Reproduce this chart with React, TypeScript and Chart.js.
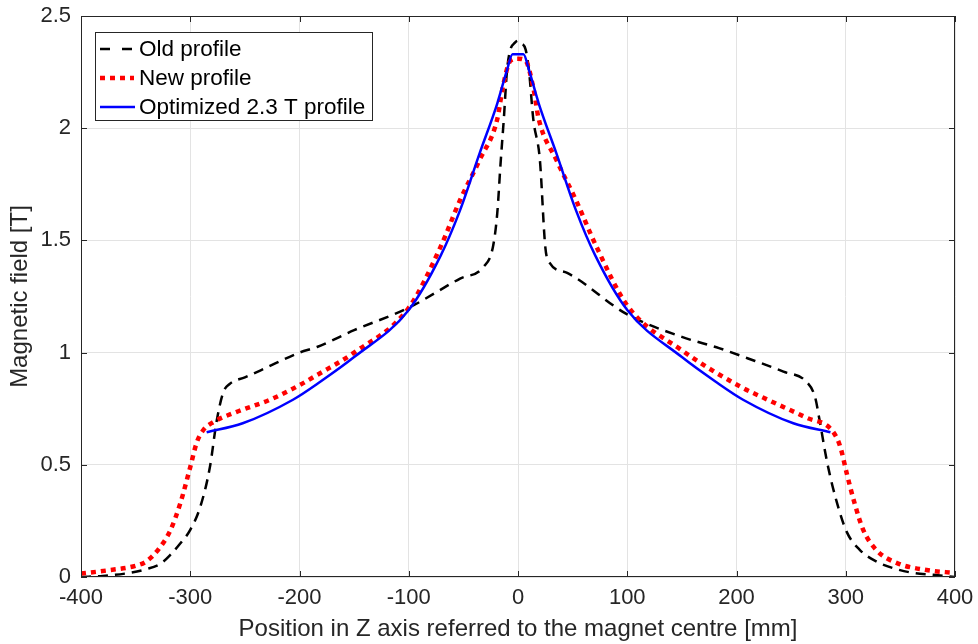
import React, { useEffect, useRef } from "react";
import { Chart, registerables } from "chart.js";

Chart.register(...registerables);

const oldX = [-400, -380, -360, -340, -327, -318, -309, -300, -291, -282, -276, -270, -264, -250, -236, -200, -184, -150, -100, -53, -32, -23, -19, -16, -13, -10, -7, -3, 0, 3, 7, 10, 14, 20, 25, 29, 45, 100, 150, 184, 210, 243, 264, 272, 276, 283, 292, 301, 313, 329, 343, 362, 380, 400];
const oldY = [0.0, 0.005, 0.015, 0.035, 0.06, 0.1, 0.15, 0.21, 0.31, 0.49, 0.69, 0.82, 0.86, 0.89, 0.92, 1.0, 1.025, 1.1, 1.2, 1.33, 1.38, 1.47, 1.62, 1.84, 2.04, 2.26, 2.35, 2.38, 2.39, 2.38, 2.35, 2.26, 2.04, 1.86, 1.47, 1.4, 1.355, 1.17, 1.07, 1.02, 0.975, 0.915, 0.87, 0.8, 0.7, 0.51, 0.33, 0.2, 0.12, 0.067, 0.04, 0.018, 0.01, 0.0];

const newX = [-400, -375, -350, -340, -328, -318, -309, -300, -294, -288, -279, -258, -227, -200, -184, -150, -100, -71, -53, -35, -19, -14, -7, 0, 7, 14, 19, 35, 53, 72, 100, 150, 203, 233, 264, 288, 295, 301, 308, 316, 328, 347, 374, 400];
const newY = [0.015, 0.03, 0.05, 0.07, 0.13, 0.21, 0.33, 0.49, 0.6, 0.655, 0.69, 0.735, 0.79, 0.855, 0.9, 1.0, 1.2, 1.47, 1.68, 1.86, 2.04, 2.18, 2.3, 2.31, 2.3, 2.18, 2.04, 1.86, 1.68, 1.47, 1.21, 1.01, 0.85, 0.78, 0.71, 0.65, 0.58, 0.46, 0.33, 0.21, 0.12, 0.062, 0.031, 0.018];

const optX = [-285, -252, -206, -181, -150, -100, -71, -53, -35, -19, -10, -5, 0, 5, 10, 19, 35, 53, 71, 100, 150, 181, 206, 252, 286];
const optY = [0.645, 0.685, 0.79, 0.87, 0.98, 1.19, 1.43, 1.635, 1.89, 2.11, 2.26, 2.33, 2.33, 2.33, 2.26, 2.11, 1.89, 1.635, 1.43, 1.19, 0.98, 0.87, 0.79, 0.685, 0.645];

const xTicks = [-400, -300, -200, -100, 0, 100, 200, 300, 400];
const yTicks = [0, 0.5, 1, 1.5, 2, 2.5];

const seriesNames = ["Old profile", "New profile", "Optimized 2.3 T profile"];

const FONT = "'Liberation Sans', Arial, sans-serif";
const TEXT = "#262626";

const toPts = (xs: number[], ys: number[]) => xs.map((x, i) => ({ x, y: ys[i] }));

const styles = [
  { color: "#000000", width: 2.5, dash: [10, 7] },
  { color: "#ff0000", width: 4.5, dash: [5, 5] },
  { color: "#0000ff", width: 2.5, dash: [] as number[] },
];

const framePlugin = {
  id: "frame",
  afterDatasetsDraw(chart: any) {
    const { ctx, chartArea: a, scales } = chart;
    ctx.save();
    ctx.strokeStyle = TEXT;
    ctx.lineWidth = 1;
    ctx.strokeRect(a.left + 0.5, a.top + 0.5, a.right - a.left - 1, a.bottom - a.top - 1);
    const tl = 6;
    ctx.beginPath();
    xTicks.forEach((v) => {
      const px = Math.round(scales.x.getPixelForValue(v)) + 0.5;
      ctx.moveTo(px, a.bottom);
      ctx.lineTo(px, a.bottom - tl);
      ctx.moveTo(px, a.top);
      ctx.lineTo(px, a.top + tl);
    });
    yTicks.forEach((v) => {
      const py = Math.round(scales.y.getPixelForValue(v)) + 0.5;
      ctx.moveTo(a.left, py);
      ctx.lineTo(a.left + tl, py);
      ctx.moveTo(a.right, py);
      ctx.lineTo(a.right - tl, py);
    });
    ctx.stroke();

    // legend
    const bx = 95.5, by = 32.5, bw = 277, bh = 88;
    ctx.fillStyle = "#ffffff";
    ctx.fillRect(bx, by, bw, bh);
    ctx.strokeStyle = TEXT;
    ctx.strokeRect(bx, by, bw, bh);
    const rows = [49, 78, 107];
    ctx.font = `22.5px ${FONT}`;
    ctx.textBaseline = "middle";
    ctx.textAlign = "left";
    seriesNames.forEach((name, i) => {
      const s = styles[i];
      ctx.beginPath();
      ctx.strokeStyle = s.color;
      ctx.lineWidth = s.width;
      ctx.setLineDash(i === 0 ? [10, 12] : s.dash);
      ctx.moveTo(100, rows[i]);
      ctx.lineTo(i === 1 ? 134 : 135, rows[i]);
      ctx.stroke();
      ctx.setLineDash([]);
      ctx.fillStyle = "#000000";
      ctx.fillText(name, 139, rows[i] + 1);
    });
    ctx.restore();
  },
};

export default function App() {
  const ref = useRef<HTMLCanvasElement>(null);
  useEffect(() => {
    document.body.style.margin = "0";
    const data = [toPts(oldX, oldY), toPts(newX, newY), toPts(optX, optY)];
    const chart = new Chart(ref.current!, {
      type: "line",
      data: {
        datasets: data.map((d, i) => ({
          label: seriesNames[i],
          data: d,
          borderColor: styles[i].color,
          borderWidth: styles[i].width,
          borderDash: styles[i].dash,
          borderCapStyle: "butt",
          pointRadius: 0,
          fill: false,
          cubicInterpolationMode: "monotone",
          order: 2 - i,
        })),
      },
      options: {
        animation: false,
        responsive: false,
        devicePixelRatio: 1,
        layout: { padding: { top: 16, right: 23, left: 0, bottom: 0 } },
        plugins: { legend: { display: false }, tooltip: { enabled: false } },
        scales: {
          x: {
            type: "linear",
            min: -400,
            max: 400,
            afterBuildTicks: (s: any) => {
              s.ticks = xTicks.map((v) => ({ value: v }));
            },
            afterFit: (s: any) => {
              s.height = 67;
              s.paddingLeft = 0;
              s.paddingRight = 0;
            },
            ticks: {
              color: TEXT,
              font: { family: FONT, size: 22 },
              padding: 8,
              maxRotation: 0,
              callback: (v: any) => String(v),
            },
            grid: { color: "#e3e3e3", drawTicks: false, lineWidth: 1 },
            border: { display: false },
            title: {
              display: true,
              text: "Position in Z axis referred to the magnet centre [mm]",
              color: TEXT,
              font: { family: FONT, size: 24 },
              padding: { top: 0, bottom: 0 },
            },
          },
          y: {
            type: "linear",
            min: 0,
            max: 2.5,
            afterBuildTicks: (s: any) => {
              s.ticks = yTicks.map((v) => ({ value: v }));
            },
            afterFit: (s: any) => {
              s.width = 81;
              s.paddingTop = 0;
              s.paddingBottom = 0;
            },
            ticks: {
              color: TEXT,
              font: { family: FONT, size: 22 },
              padding: 10,
              callback: (v: any) => String(v),
            },
            grid: { color: "#e3e3e3", drawTicks: false, lineWidth: 1 },
            border: { display: false },
            title: {
              display: true,
              text: "Magnetic field [T]",
              color: TEXT,
              font: { family: FONT, size: 24 },
              padding: { top: 6, bottom: 0 },
            },
          },
        },
      },
      plugins: [framePlugin],
    } as any);
    return () => chart.destroy();
  }, []);
  return <canvas ref={ref} width={978} height={644} style={{ display: "block" }} />;
}
